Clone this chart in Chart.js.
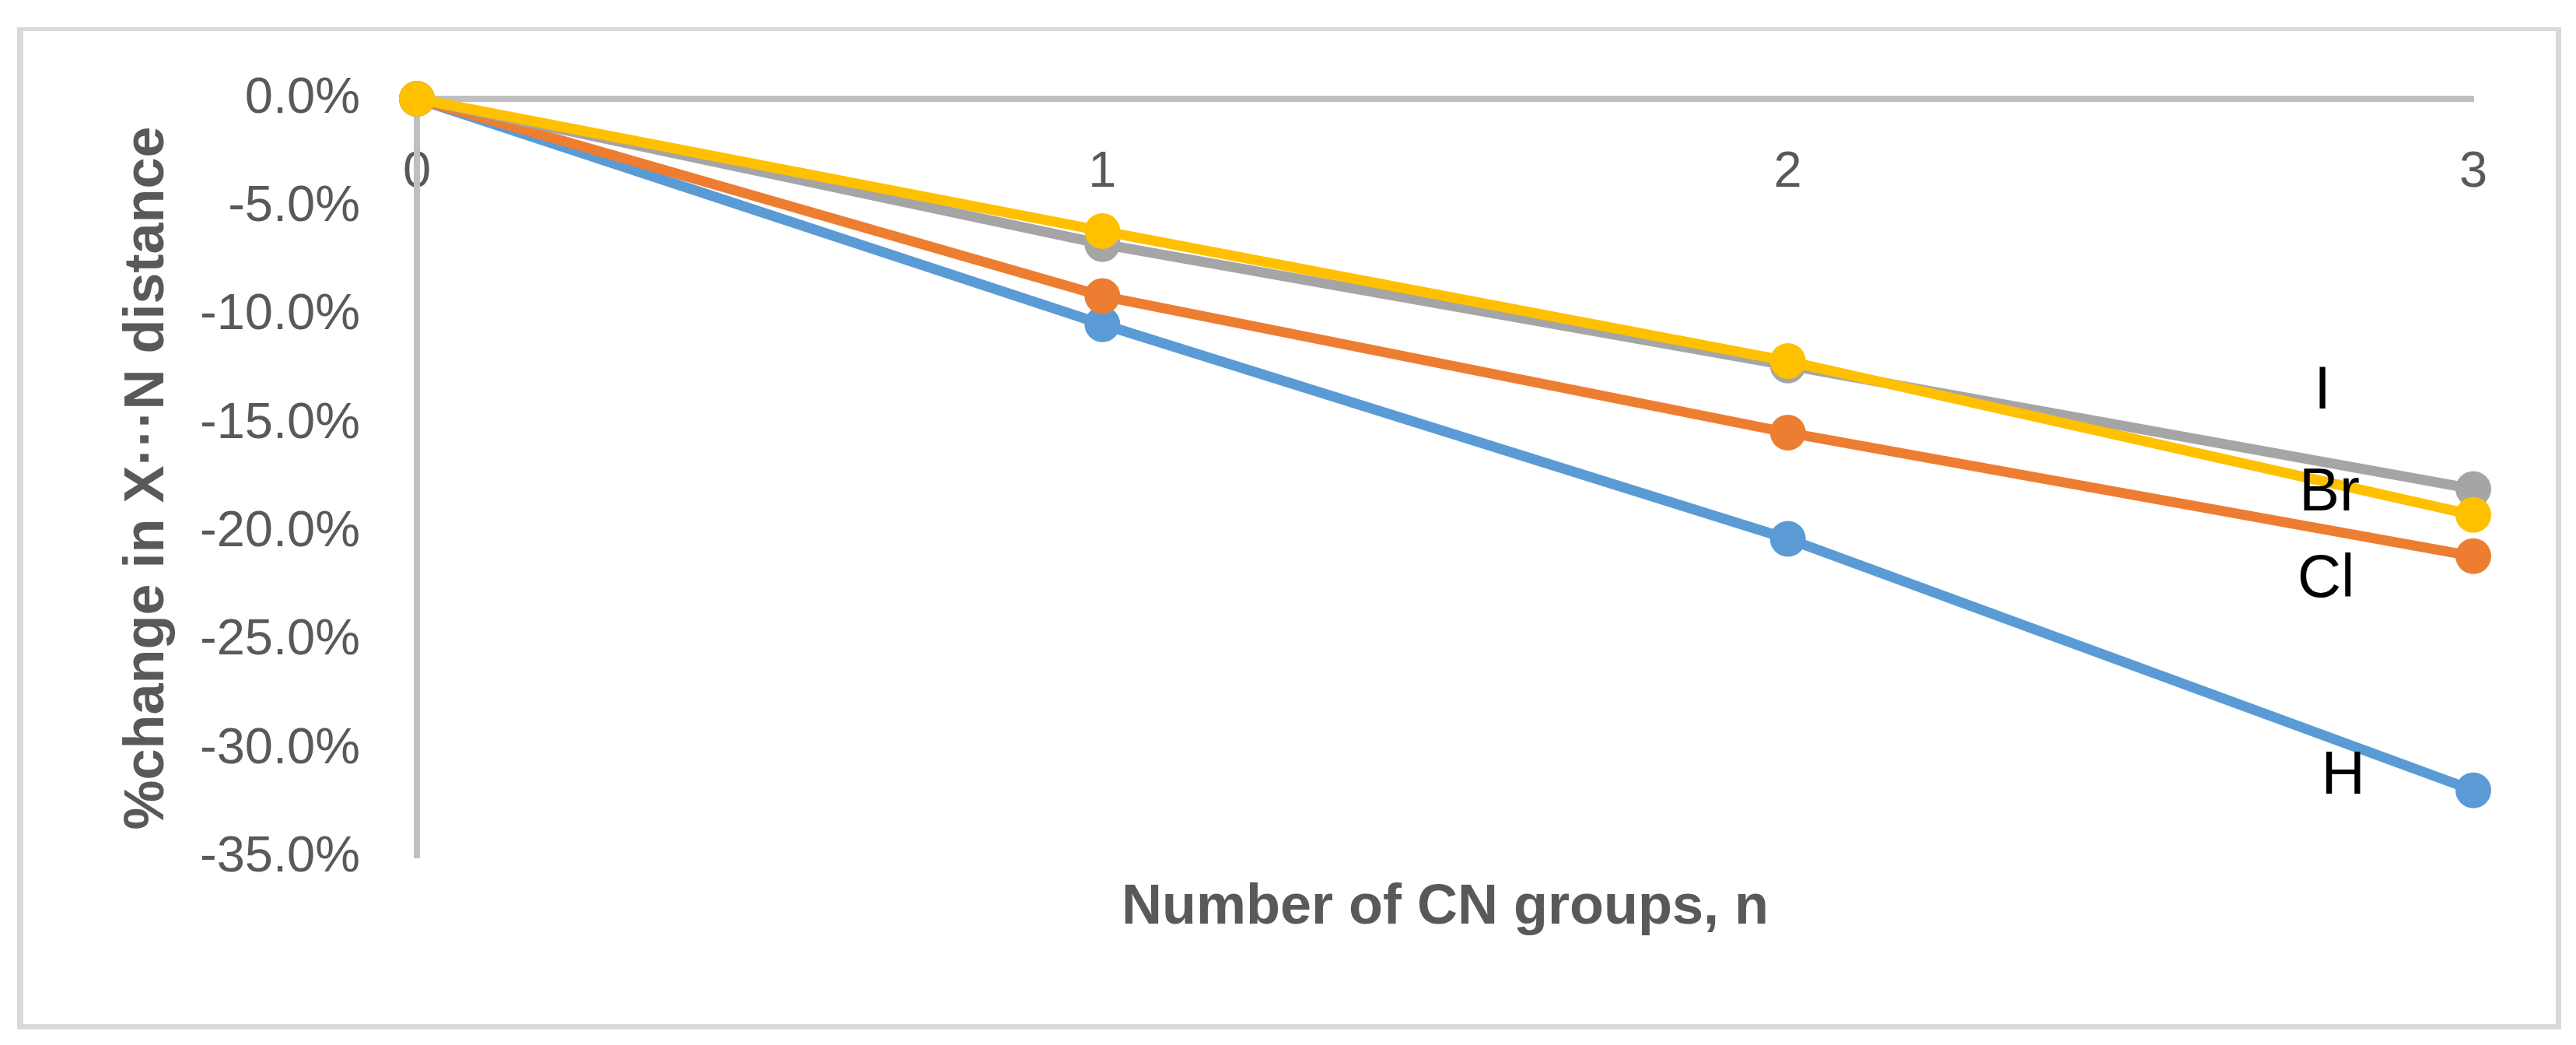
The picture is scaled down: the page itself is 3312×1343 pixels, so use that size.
<!DOCTYPE html>
<html>
<head>
<meta charset="utf-8">
<script src="https://cdn.jsdelivr.net/npm/chart.js@4.4.1/dist/chart.umd.min.js"></script>
<style>
  html, body { margin: 0; padding: 0; background: #ffffff; }
  #frame {
    position: absolute; left: 22px; top: 35px; width: 3271px; height: 1288px;
    box-sizing: border-box; border-style: solid; border-color: #d9d9d9;
    border-width: 5px 7px 7px 8px;
  }
  #myChart { position: absolute; left: 0; top: 0; }
</style>
</head>
<body>
<div id="frame"></div>
<canvas id="myChart" width="3312" height="1343"></canvas>
<script>
const ctx = document.getElementById('myChart');

// number of CN groups
var nGroups = [0, 1, 2, 3];

// % change in X...N distance, one array per halogen
var serieH = [0, -10.4, -20.3, -31.9];
var serieCl = [0, -9.1, -15.4, -21.1];
var serieI = [0, -6.7, -12.3, -18.0];
var serieBr = [0, -6.1, -12.1, -19.2];

// y ticks
var yMin = -35;
var yMax = 0;
var yStep = 5;

// text labels next to the lines (data units)
var labelNames = ['I', 'Br', 'Cl', 'H'];
var labelX = [2.78, 2.79, 2.785, 2.81];
var labelY = [-13.5, -18.2, -22.2, -31.3];

function toPoints(vals) {
    return vals.map((v, i) => ({ x: nGroups[i], y: v }));
}

const tickColor = '#595959';
const axisColor = '#bfbfbf';
const tickFont = { family: '"Liberation Sans", Arial, sans-serif', size: 65 };
const titleFont = { family: '"Liberation Sans", Arial, sans-serif', size: 72, weight: 'bold' };

const seriesLabels = {
    id: 'seriesLabels',
    afterDatasetsDraw(chart) {
        const c = chart.ctx;
        const xs = chart.scales.x;
        const ys = chart.scales.y;
        c.save();
        c.font = '78px "Liberation Sans", Arial, sans-serif';
        c.fillStyle = '#000000';
        c.textAlign = 'center';
        c.textBaseline = 'middle';
        labelNames.forEach((name, i) => {
            c.fillText(name, xs.getPixelForValue(labelX[i]), ys.getPixelForValue(labelY[i]));
        });
        c.restore();
    }
};

function lineSet(label, vals, color, order) {
    return {
        label: label,
        data: toPoints(vals),
        xAxisID: 'x',
        yAxisID: 'y',
        borderColor: color,
        backgroundColor: color,
        borderWidth: 13,
        pointRadius: 23,
        pointHoverRadius: 23,
        pointBorderWidth: 0,
        pointBackgroundColor: color,
        tension: 0,
        clip: false,
        order: order
    };
}

new Chart(ctx, {
    type: 'line',
    data: {
        datasets: [
            lineSet('H', serieH, '#5b9bd5', 4),
            lineSet('Cl', serieCl, '#ed7d31', 3),
            lineSet('I', serieI, '#a5a5a5', 2),
            lineSet('Br', serieBr, '#ffc000', 1)
        ]
    },
    options: {
        responsive: false,
        animation: false,
        devicePixelRatio: 1,
        layout: {
            autoPadding: false,
            padding: { left: 0, top: 127, right: 132, bottom: 0 }
        },
        plugins: {
            legend: { display: false },
            tooltip: { enabled: false }
        },
        scales: {
            x: {
                type: 'linear',
                min: 0,
                max: 3,
                position: { y: 0 },
                afterFit: s => { s.height = 0; },
                grid: { display: false, drawTicks: false },
                border: { display: true, color: axisColor, width: 8 },
                ticks: {
                    stepSize: 1,
                    autoSkip: false,
                    maxRotation: 0,
                    padding: 56,
                    color: tickColor,
                    font: tickFont,
                    callback: v => String(v)
                }
            },
            xt: {
                type: 'linear',
                axis: 'x',
                min: 0,
                max: 3,
                position: 'bottom',
                afterFit: s => { s.height = 241; },
                grid: { display: false, drawTicks: false },
                border: { display: false },
                ticks: { display: false },
                title: {
                    display: true,
                    text: 'Number of CN groups, n',
                    color: tickColor,
                    font: titleFont,
                    padding: { top: 0, bottom: 133 }
                }
            },
            y: {
                type: 'linear',
                min: yMin,
                max: yMax,
                position: 'left',
                afterFit: s => { s.width = 536; },
                grid: { display: false, drawTicks: false },
                border: { display: true, color: axisColor, width: 8 },
                ticks: {
                    stepSize: yStep,
                    padding: 73,
                    color: tickColor,
                    font: tickFont,
                    callback: v => v.toFixed(1) + '%'
                },
                title: {
                    display: true,
                    text: '%change in X···N distance',
                    color: tickColor,
                    font: titleFont,
                    padding: { top: 147, bottom: 0 }
                }
            }
        }
    },
    plugins: [seriesLabels]
});
</script>
</body>
</html>
